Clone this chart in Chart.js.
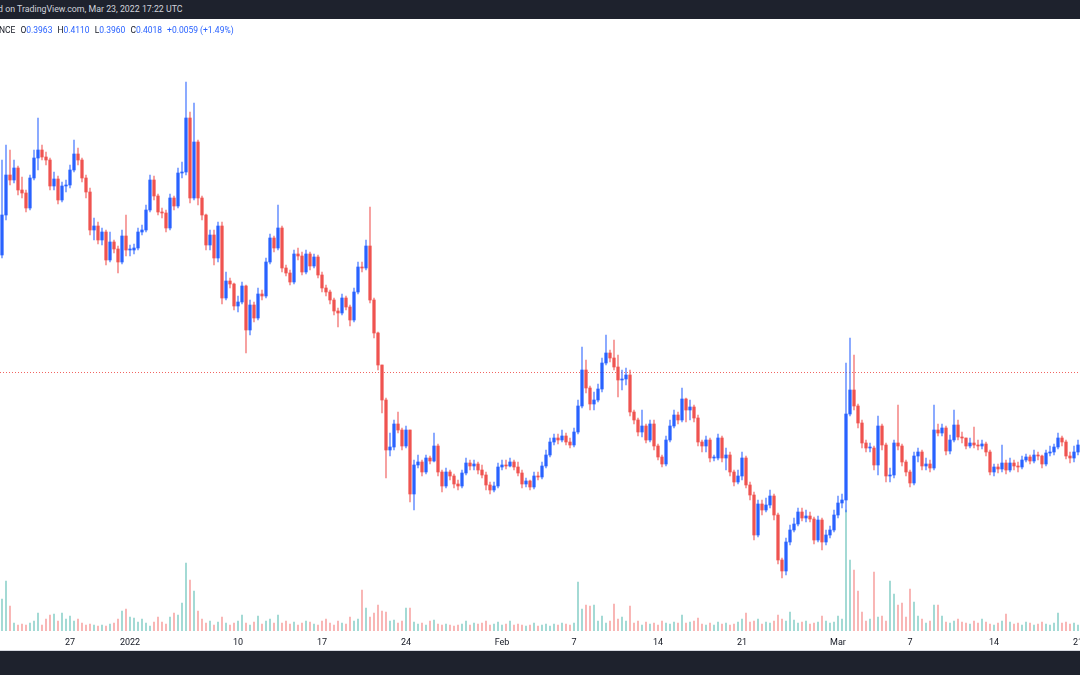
<!DOCTYPE html>
<html>
<head>
<meta charset="utf-8">
<title>Chart</title>
<script src="https://cdn.jsdelivr.net/npm/chart.js@4.4.1/dist/chart.umd.min.js"></script>
<style>
  body { margin: 0; width: 1080px; height: 675px; overflow: hidden; background: #fff; position: relative; font-family: Roboto, sans-serif; }
  #topbar { position: absolute; left: 0; top: 0; width: 1080px; height: 19px; background: #1e222d; overflow: hidden; }
  #topbar span { position: absolute; left: -2px; top: 4px; color: #d1d4dc; font-size: 8.8px; white-space: nowrap; }
  #wrap { position: absolute; left: 0; top: 20px; width: 1080px; height: 630px; }
  #legend { position: absolute; left: -1px; top: 25px; font-size: 8.5px; color: #131722; white-space: nowrap; }
  #legend span { margin-right: 5px; }
  #legend b { font-weight: normal; color: #2962ff; }
  #bottombar { position: absolute; left: 0; top: 650px; width: 1080px; height: 25px; background: #1e222d; border-top: 1px solid #d6d9e0; }
</style>
</head>
<body>
<div id="topbar"><span>d on TradingView.com, Mar 23, 2022 17:22 UTC</span></div>
<div id="wrap"><canvas id="myChart"></canvas></div>
<div id="legend"></div>
<div id="bottombar"></div>
<script>
// 8h candles, first one starts Dec 21 2021 08:00 UTC
const candleStart = Date.UTC(2021, 11, 21, 8);
const candleHours = 8;

const opens = [
  0.592,0.632,0.672,0.667,0.679,0.657,0.654,0.639,0.669,0.689,
  0.697,0.690,0.687,0.661,0.668,0.647,0.661,0.662,0.677,0.693,
  0.687,0.669,0.655,0.617,0.621,0.607,0.615,0.587,0.605,0.598,
  0.585,0.611,0.597,0.597,0.599,0.615,0.617,0.637,0.667,0.651,
  0.635,0.634,0.619,0.649,0.641,0.674,0.675,0.729,0.649,0.705,
  0.649,0.632,0.602,0.612,0.589,0.621,0.549,0.566,0.563,0.541,
  0.545,0.561,0.517,0.542,0.529,0.553,0.551,0.585,0.609,0.599,
  0.619,0.579,0.574,0.565,0.593,0.591,0.575,0.593,0.581,0.590,
  0.572,0.559,0.555,0.547,0.536,0.534,0.549,0.540,0.527,0.555,
  0.580,0.579,0.601,0.547,0.514,0.482,0.447,0.397,0.400,0.423,
  0.417,0.401,0.417,0.353,0.382,0.385,0.375,0.389,0.386,0.401,
  0.375,0.361,0.375,0.371,0.363,0.361,0.374,0.384,0.381,0.383,
  0.377,0.372,0.362,0.357,0.361,0.380,0.382,0.381,0.385,0.380,
  0.374,0.363,0.366,0.360,0.371,0.370,0.381,0.392,0.405,0.409,
  0.407,0.411,0.405,0.402,0.415,0.441,0.477,0.459,0.443,0.447,
  0.458,0.484,0.494,0.489,0.480,0.467,0.468,0.472,0.435,0.427,
  0.415,0.421,0.407,0.423,0.401,0.390,0.383,0.407,0.421,0.432,
  0.427,0.448,0.437,0.440,0.429,0.405,0.401,0.407,0.389,0.389,
  0.409,0.389,0.392,0.375,0.365,0.371,0.389,0.362,0.352,0.312,
  0.343,0.337,0.342,0.351,0.332,0.287,0.276,0.305,0.317,0.323,
  0.335,0.329,0.331,0.328,0.307,0.327,0.305,0.312,0.317,0.332,
  0.344,0.347,0.433,0.457,0.441,0.424,0.404,0.399,0.399,0.382,
  0.421,0.402,0.371,0.372,0.404,0.401,0.385,0.375,0.364,0.391,
  0.395,0.381,0.383,0.379,0.417,0.414,0.419,0.396,0.407,0.422,
  0.410,0.409,0.401,0.404,0.402,0.401,0.403,0.395,0.375,0.380,
  0.378,0.384,0.377,0.384,0.381,0.380,0.387,0.390,0.386,0.392,
  0.391,0.383,0.394,0.395,0.400,0.409,0.405,0.391,0.389,0.395
];

const highs = [
  0.687,0.702,0.697,0.687,0.681,0.670,0.657,0.672,0.697,0.729,
  0.702,0.695,0.689,0.675,0.671,0.665,0.667,0.682,0.707,0.699,
  0.689,0.672,0.659,0.629,0.625,0.619,0.617,0.615,0.607,0.601,
  0.617,0.632,0.602,0.603,0.619,0.622,0.642,0.672,0.671,0.653,
  0.639,0.637,0.653,0.651,0.679,0.685,0.765,0.735,0.744,0.707,
  0.651,0.633,0.617,0.617,0.625,0.625,0.575,0.569,0.564,0.551,
  0.565,0.562,0.547,0.545,0.559,0.557,0.589,0.613,0.611,0.642,
  0.621,0.582,0.577,0.597,0.599,0.595,0.597,0.595,0.593,0.592,
  0.575,0.562,0.557,0.549,0.539,0.553,0.551,0.542,0.559,0.585,
  0.585,0.607,0.640,0.549,0.515,0.482,0.449,0.414,0.427,0.435,
  0.419,0.421,0.417,0.387,0.392,0.387,0.392,0.391,0.414,0.403,
  0.377,0.379,0.377,0.373,0.367,0.377,0.389,0.387,0.387,0.385,
  0.382,0.375,0.365,0.365,0.384,0.387,0.387,0.389,0.387,0.385,
  0.377,0.369,0.367,0.375,0.375,0.385,0.397,0.409,0.413,0.413,
  0.417,0.414,0.409,0.419,0.447,0.500,0.487,0.461,0.455,0.463,
  0.489,0.512,0.497,0.507,0.492,0.477,0.479,0.477,0.437,0.429,
  0.437,0.423,0.427,0.427,0.403,0.392,0.411,0.427,0.437,0.435,
  0.459,0.449,0.447,0.442,0.432,0.407,0.411,0.409,0.392,0.413,
  0.411,0.399,0.395,0.377,0.377,0.395,0.391,0.365,0.355,0.347,
  0.347,0.349,0.357,0.353,0.334,0.289,0.309,0.322,0.329,0.339,
  0.339,0.337,0.335,0.330,0.331,0.329,0.317,0.321,0.337,0.351,
  0.353,0.484,0.509,0.492,0.443,0.427,0.407,0.404,0.401,0.431,
  0.423,0.404,0.379,0.407,0.442,0.403,0.387,0.377,0.395,0.399,
  0.397,0.389,0.387,0.442,0.423,0.423,0.421,0.412,0.437,0.427,
  0.415,0.409,0.409,0.420,0.407,0.407,0.405,0.397,0.383,0.383,
  0.402,0.387,0.389,0.387,0.385,0.391,0.393,0.392,0.397,0.395,
  0.392,0.397,0.401,0.403,0.414,0.411,0.407,0.395,0.401,0.407
];

const lows = [
  0.589,0.627,0.662,0.664,0.652,0.649,0.635,0.637,0.667,0.677,
  0.687,0.682,0.657,0.657,0.643,0.645,0.655,0.659,0.675,0.682,
  0.665,0.649,0.612,0.607,0.603,0.602,0.582,0.585,0.594,0.574,
  0.583,0.591,0.591,0.593,0.597,0.612,0.615,0.635,0.647,0.632,
  0.629,0.615,0.617,0.637,0.639,0.669,0.672,0.644,0.647,0.642,
  0.627,0.597,0.597,0.582,0.585,0.543,0.547,0.559,0.537,0.535,
  0.543,0.494,0.512,0.525,0.527,0.547,0.549,0.583,0.595,0.597,
  0.575,0.571,0.562,0.563,0.587,0.572,0.573,0.577,0.579,0.569,
  0.555,0.551,0.543,0.532,0.520,0.532,0.537,0.521,0.525,0.553,
  0.575,0.577,0.544,0.509,0.477,0.434,0.369,0.391,0.397,0.414,
  0.397,0.399,0.345,0.337,0.379,0.371,0.373,0.383,0.385,0.371,
  0.355,0.359,0.367,0.359,0.357,0.359,0.372,0.377,0.377,0.373,
  0.369,0.357,0.353,0.355,0.359,0.377,0.378,0.380,0.377,0.371,
  0.359,0.360,0.357,0.358,0.367,0.368,0.379,0.390,0.402,0.403,
  0.405,0.402,0.399,0.400,0.413,0.439,0.454,0.437,0.437,0.445,
  0.455,0.482,0.485,0.477,0.450,0.457,0.462,0.431,0.423,0.411,
  0.410,0.404,0.405,0.397,0.387,0.380,0.381,0.405,0.419,0.423,
  0.425,0.425,0.427,0.425,0.401,0.395,0.395,0.385,0.386,0.387,
  0.385,0.377,0.371,0.361,0.363,0.367,0.359,0.347,0.307,0.310,
  0.332,0.335,0.339,0.327,0.283,0.269,0.272,0.302,0.315,0.321,
  0.326,0.325,0.325,0.303,0.305,0.297,0.302,0.309,0.315,0.329,
  0.339,0.335,0.431,0.437,0.419,0.399,0.395,0.395,0.377,0.372,
  0.397,0.365,0.365,0.369,0.397,0.381,0.371,0.360,0.362,0.385,
  0.377,0.377,0.375,0.377,0.411,0.411,0.392,0.393,0.405,0.407,
  0.404,0.398,0.399,0.399,0.397,0.398,0.391,0.372,0.371,0.374,
  0.375,0.373,0.375,0.377,0.375,0.378,0.385,0.383,0.384,0.387,
  0.379,0.381,0.391,0.392,0.398,0.401,0.388,0.384,0.385,0.392
];

const closes = [
  0.632,0.672,0.667,0.679,0.657,0.654,0.639,0.669,0.689,0.697,
  0.690,0.687,0.661,0.668,0.647,0.661,0.662,0.677,0.693,0.687,
  0.669,0.655,0.617,0.621,0.607,0.615,0.587,0.605,0.598,0.585,
  0.611,0.597,0.597,0.599,0.615,0.617,0.637,0.667,0.651,0.635,
  0.634,0.619,0.649,0.641,0.674,0.675,0.729,0.649,0.705,0.649,
  0.632,0.602,0.612,0.589,0.621,0.549,0.566,0.563,0.541,0.545,
  0.561,0.517,0.542,0.529,0.553,0.551,0.585,0.609,0.599,0.619,
  0.579,0.574,0.565,0.593,0.591,0.575,0.593,0.581,0.590,0.572,
  0.559,0.555,0.547,0.536,0.534,0.549,0.540,0.527,0.555,0.580,
  0.579,0.601,0.547,0.514,0.482,0.447,0.397,0.400,0.423,0.417,
  0.401,0.417,0.353,0.382,0.385,0.375,0.389,0.386,0.401,0.375,
  0.361,0.375,0.371,0.363,0.361,0.374,0.384,0.381,0.383,0.377,
  0.372,0.362,0.357,0.361,0.380,0.382,0.381,0.385,0.380,0.374,
  0.363,0.366,0.360,0.371,0.370,0.381,0.392,0.405,0.409,0.407,
  0.411,0.405,0.402,0.415,0.441,0.477,0.459,0.443,0.447,0.458,
  0.484,0.494,0.489,0.480,0.467,0.468,0.472,0.435,0.427,0.415,
  0.421,0.407,0.423,0.401,0.390,0.383,0.407,0.421,0.432,0.427,
  0.448,0.437,0.440,0.429,0.405,0.401,0.407,0.389,0.389,0.409,
  0.389,0.392,0.375,0.365,0.371,0.389,0.362,0.352,0.312,0.343,
  0.337,0.342,0.351,0.332,0.287,0.276,0.305,0.317,0.323,0.335,
  0.329,0.331,0.328,0.307,0.327,0.305,0.312,0.317,0.332,0.344,
  0.347,0.433,0.457,0.441,0.424,0.404,0.399,0.399,0.382,0.421,
  0.402,0.371,0.372,0.404,0.401,0.385,0.375,0.364,0.391,0.395,
  0.381,0.383,0.379,0.417,0.414,0.419,0.396,0.407,0.422,0.410,
  0.409,0.401,0.404,0.402,0.401,0.403,0.395,0.375,0.380,0.378,
  0.384,0.377,0.384,0.381,0.380,0.387,0.390,0.386,0.392,0.391,
  0.383,0.394,0.395,0.400,0.409,0.405,0.391,0.389,0.395,0.402
];

// volume, in 100k units
const volumes = [
  32,50,25,8,6,7,6,8,10,18,
  6,12,16,17,10,18,12,15,10,12,
  8,6,7,6,5,6,5,7,8,12,
  20,22,14,13,9,12,8,5,9,14,
  9,7,14,18,16,28,68,51,40,20,
  12,8,10,6,9,14,8,6,8,10,
  16,8,6,9,15,7,10,12,8,16,
  8,10,7,9,6,8,10,9,7,6,
  10,12,8,6,10,8,7,14,10,12,
  41,23,14,18,26,20,19,10,11,8,
  10,23,23,9,7,8,6,10,11,7,
  6,7,6,5,6,7,10,6,8,7,
  8,10,6,7,9,6,7,10,6,7,
  6,5,6,8,5,6,7,5,7,6,
  8,7,6,8,49,22,26,25,26,10,
  15,8,10,27,12,14,10,25,8,10,
  6,9,7,8,6,10,8,7,9,8,
  16,8,9,10,13,7,6,8,6,9,
  7,8,6,7,9,12,18,9,10,12,
  7,9,8,10,16,12,10,19,11,8,
  9,10,7,8,9,15,10,8,9,15,
  12,121,71,61,40,19,10,12,59,14,
  15,10,50,37,26,28,14,42,29,15,
  12,8,10,26,26,15,9,8,10,12,
  9,8,7,10,8,12,9,7,6,8,
  10,17,9,7,8,6,9,8,6,7,
  9,7,6,8,18,8,9,7,8,6
];

const tickDates = ['2021-12-27', '2022-01-01', '2022-01-10', '2022-01-17', '2022-01-24', '2022-02-01',
                   '2022-02-07', '2022-02-14', '2022-02-21', '2022-03-01', '2022-03-07', '2022-03-14', '2022-03-21'];
const tickLabels = ['27', '2022', '10', '17', '24', 'Feb', '7', '14', '21', 'Mar', '7', '14', '21'];

const priceLine = 0.475;
const legendNames = ['O', 'H', 'L', 'C', ''];
const legendValues = ['0.3963', '0.4110', '0.3960', '0.4018', '+0.0059 (+1.49%)'];

// legend line
let legendHtml = '<span>NCE</span>';
legendNames.forEach(function (name, i) {
  legendHtml += '<span>' + name + '<b>' + legendValues[i] + '</b></span>';
});
document.getElementById('legend').innerHTML = legendHtml;

const labels = closes.map(function (c, i) { return candleStart + i * candleHours * 3600000; });

// text under each candle, only on the marked midnights
const axisText = labels.map(function (t) {
  const s = new Date(t).toISOString();
  const k = tickDates.indexOf(s.slice(0, 10));
  return (k >= 0 && s.slice(11, 13) === '00') ? tickLabels[k] : '';
});

const upColor = '#2962ff';
const downColor = '#ef5350';
const isUp = closes.map(function (c, i) { return c >= opens[i]; });

const priceLinePlugin = {
  id: 'priceLine',
  beforeDatasetsDraw: function (chart) {
    const ctx = chart.ctx;
    const y = Math.round(chart.scales.y.getPixelForValue(priceLine)) + 0.5;
    ctx.save();
    ctx.strokeStyle = 'rgba(239, 83, 80, 0.9)';
    ctx.lineWidth = 1;
    ctx.setLineDash([1, 2]);
    ctx.beginPath();
    ctx.moveTo(chart.chartArea.left, y);
    ctx.lineTo(chart.chartArea.right, y);
    ctx.stroke();
    ctx.restore();
  }
};

const ctx = document.getElementById('myChart').getContext('2d');
const myChart = new Chart(ctx, {
  type: 'bar',
  data: {
    labels: labels,
    datasets: [{
      label: 'Body',
      data: closes.map(function (c, i) { return [opens[i], c]; }),
      backgroundColor: isUp.map(function (u) { return u ? upColor : downColor; }),
      barThickness: 2.6,
      minBarLength: 1,
      grouped: false,
      order: 0,
      yAxisID: 'y'
    }, {
      label: 'Wick',
      data: highs.map(function (h, i) { return [lows[i], h]; }),
      backgroundColor: isUp.map(function (u) { return u ? 'rgba(41, 98, 255, 0.65)' : 'rgba(239, 83, 80, 0.65)'; }),
      barThickness: 1,
      grouped: false,
      order: 1,
      yAxisID: 'y'
    }, {
      label: 'Volume',
      data: volumes,
      backgroundColor: isUp.map(function (u) { return u ? 'rgba(38, 166, 154, 0.45)' : 'rgba(239, 83, 80, 0.45)'; }),
      barThickness: 1.2,
      grouped: false,
      order: 2,
      yAxisID: 'v'
    }]
  },
  options: {
    responsive: true,
    maintainAspectRatio: false,
    animation: false,
    layout: { padding: 0 },
    plugins: {
      legend: { display: false },
      tooltip: { enabled: false }
    },
    scales: {
      x: {
        grid: { display: false, drawTicks: false },
        border: { display: false },
        ticks: {
          autoSkip: false,
          maxRotation: 0,
          minRotation: 0,
          padding: 6,
          color: '#131722',
          font: { family: 'Roboto', size: 9 },
          callback: function (value) { return axisText[value]; }
        },
        afterFit: function (scale) {
          // keep the full width for the candles, labels may touch the edge
          scale.height = 19;
          scale.paddingLeft = 0;
          scale.paddingRight = 0;
        }
      },
      y: {
        display: false,
        min: 0.216,
        max: 0.827
      },
      v: {
        display: false,
        min: 0,
        max: 611
      }
    }
  },
  plugins: [priceLinePlugin]
});
</script>
</body>
</html>
